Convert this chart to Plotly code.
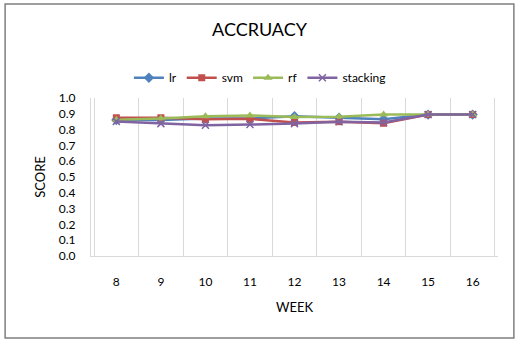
import plotly.graph_objects as go

weeks = ["8", "9", "10", "11", "12", "13", "14", "15", "16"]
lr = [0.86, 0.86, 0.87, 0.87, 0.885, 0.875, 0.865, 0.895, 0.895]
svm = [0.875, 0.875, 0.865, 0.868, 0.845, 0.85, 0.84, 0.895, 0.895]
rf = [0.862, 0.87, 0.885, 0.89, 0.88, 0.882, 0.895, 0.895, 0.895]
stacking = [0.852, 0.838, 0.828, 0.832, 0.838, 0.85, 0.845, 0.895, 0.895]

series = [
    ("lr", lr, "#4F81BD", "diamond", 8),
    ("svm", svm, "#C0504D", "square", 7),
    ("rf", rf, "#9BBB59", "triangle-up", 8),
    ("stacking", stacking, "#8064A2", "x-thin-open", 7),
]

FONT = "Lato, Calibri, sans-serif"

fig = go.Figure()
for name, vals, color, sym, sz in series:
    marker = dict(symbol=sym, size=sz, color=color)
    if sym == "x-thin-open":
        marker["line"] = dict(width=1.5, color=color)
    fig.add_trace(go.Scatter(
        x=weeks, y=vals, name=name, mode="lines+markers",
        line=dict(color=color, width=2.5), marker=marker,
    ))

fig.update_layout(
    width=519, height=342,
    margin=dict(l=91, r=21, t=98, b=86, autoexpand=False),
    paper_bgcolor="white", plot_bgcolor="white",
    font=dict(family=FONT, size=12, color="#000000"),
    title=dict(text="ACCRUACY", x=0.5, xanchor="center", y=0.912, yanchor="middle",
               automargin=False,
               font=dict(family=FONT, size=18, color="#000000")),
    legend=dict(orientation="h", x=0.415, xanchor="center", y=1.128, yanchor="middle",
                font=dict(family=FONT, size=12), itemwidth=30, tracegroupgap=0,
                bgcolor="rgba(0,0,0,0)"),
    showlegend=True,
    shapes=[dict(type="rect", xref="paper", yref="paper",
                 x0=-0.211, x1=1.039, y0=-0.519, y1=1.595,
                 line=dict(color="#7f7f7f", width=1.5), layer="below")],
)

fig.update_xaxes(
    type="category", tickson="boundaries", showgrid=True, gridcolor="#d9d9d9", gridwidth=1,
    showline=True, linecolor="#d9d9d9", linewidth=1, ticks="", ticklabelstandoff=15,
    title=dict(text="WEEK", font=dict(family=FONT, size=13), standoff=14),
    zeroline=False, automargin=False,
)
fig.update_yaxes(
    range=[0, 1.0], dtick=0.1, tick0=0, tickformat=".1f", showgrid=False,
    showline=True, linecolor="#d9d9d9", linewidth=1, ticks="", ticklabelstandoff=12,
    title=dict(text="SCORE", font=dict(family=FONT, size=13), standoff=10),
    zeroline=False, automargin=False,
)

fig.write_html("out.html", config={"displayModeBar": False},
               post_script="document.body.style.margin='0';document.body.style.overflow='hidden';")
